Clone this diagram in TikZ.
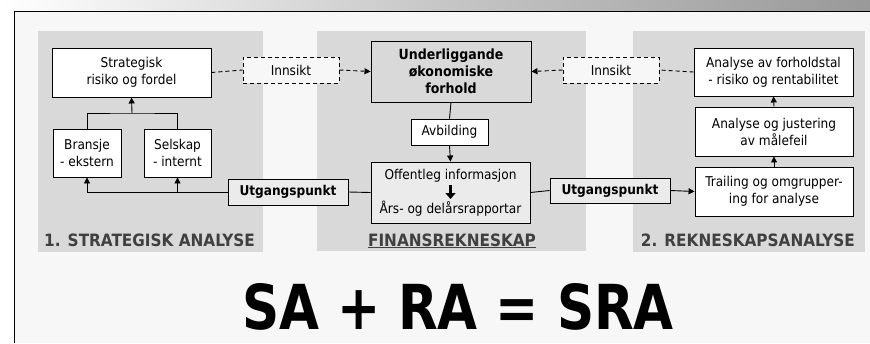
\documentclass[tikz,border=0pt]{standalone}
\usepackage{fontspec}
\setmainfont{DejaVu Sans Condensed}
\usetikzlibrary{arrows.meta}
\definecolor{bgc}{HTML}{F7F7F7}
\definecolor{panelc}{HTML}{D9D9D9}
\definecolor{boxc}{HTML}{EBEBEB}
\definecolor{labc}{HTML}{404040}
\tikzset{
  base/.style={draw=black, line width=0.9pt, align=center, inner sep=0pt,
    font=\fontsize{13.5}{17}\selectfont},
  wbox/.style={base, fill=white},
  gbox/.style={base, fill=boxc},
  dbox/.style={base, fill=bgc, dashed, dash pattern=on 4pt off 3pt},
  conn/.style={line width=0.9pt},
  arr/.style={conn, -{Triangle[length=6pt,width=6pt]}},
  dconn/.style={conn, dash pattern=on 4pt off 3pt},
  plab/.style={font=\fontsize{17}{20}\bfseries\selectfont, text=labc, inner sep=0pt}
}
\begin{document}
\begin{tikzpicture}[x=1pt,y=-1pt]
\useasboundingbox (0,0) rectangle (870,343);
\fill[white] (0,0) rectangle (870,343);
\shade[left color=white, right color=black!40, middle color=black!22] (0,0) rectangle (870,11.5);
\fill[bgc] (14.5,11.5) rectangle (870,343);
\draw[line width=1.6pt] (14.5,343) -- (14.5,11.5) -- (870,11.5);
% panels
\fill[panelc] (38,31) rectangle (263,252);
\fill[panelc] (317,31) rectangle (586,251);
\fill[panelc] (633,31) rectangle (865,252);
% nodes
\node[wbox, minimum width=159pt, minimum height=49pt] (strat) at (131.5,72.5) {Strategisk\\risiko og fordel};
\node[wbox, minimum width=68pt, minimum height=48pt] (brans) at (87,153) {Bransje\\- ekstern};
\node[wbox, minimum width=67pt, minimum height=48pt] (selsk) at (177.5,153) {Selskap\\- internt};
\node[gbox, minimum width=120pt, minimum height=26pt, font=\fontsize{13.5}{17}\bfseries\selectfont] (utgL) at (288,192) {Utgangspunkt};
\node[dbox, minimum width=96pt, minimum height=26pt] (innL) at (291,70) {Innsikt};
\node[base, fill=panelc, minimum width=160pt, minimum height=61pt, font=\fontsize{14}{17}\bfseries\selectfont] (under) at (451,71.5) {Underliggande\\økonomiske\\forhold};
\node[wbox, minimum width=77pt, minimum height=26pt] (avb) at (449.5,132) {Avbilding};
\node[gbox, minimum width=159pt, minimum height=61pt] (off) at (450.5,192.5) {};
\node[inner sep=0pt, font=\fontsize{13.5}{17}\selectfont] (offA) at (450.5,176) {Offentleg informasjon};
\node[inner sep=0pt, font=\fontsize{13.5}{17}\selectfont] (offB) at (450.5,209) {Års- og delårsrapportar};
\draw[line width=2.6pt, -{Triangle[length=6pt,width=10pt]}] (450.5,185) -- (450.5,199);
\node[gbox, minimum width=120pt, minimum height=25pt, font=\fontsize{13.5}{17}\bfseries\selectfont] (utgR) at (610,190.5) {Utgangspunkt};
\node[dbox, minimum width=96pt, minimum height=26pt] (innR) at (611,70) {Innsikt};
\node[wbox, minimum width=159pt, minimum height=48pt] (fh) at (773.5,72) {Analyse av forholdstal\\- risiko og rentabilitet};
\node[wbox, minimum width=158pt, minimum height=49pt] (just) at (774,131.5) {Analyse og justering\\av målefeil};
\node[wbox, minimum width=158pt, minimum height=49pt] (trail) at (774,191.5) {Trailing og omgrupper-\\ing for analyse};
% connectors
\coordinate (j) at (132,113);
\draw[conn] (brans.north) |- (j) -| (selsk.north);
\draw[arr] (j) -- (strat.south);
\draw[arr] (utgL.west) -| (brans.south);
\draw[arr] (utgL.west -| selsk.south) -- (selsk.south);
\draw[conn] (off.west) -- (utgL.east);
\draw[conn] (off.east) -- (utgR.west);
\draw[arr] (utgR.east) -- (trail.west);
\draw[arr] (trail.north) -- (just.south);
\draw[arr] (just.north) -- (fh.south);
\draw[conn] (under.south) -- (avb.north);
\draw[arr] (avb.south) -- (off.north);
\draw[dconn] (strat.east) -- (innL.west);
\draw[dconn, -{Triangle[length=6pt,width=6pt]}] (innL.east) -- (under.west);
\draw[dconn] (fh.west) -- (innR.east);
\draw[dconn, -{Triangle[length=6pt,width=6pt]}] (innR.west) -- (under.east);
% labels
\node[plab, anchor=base west] (labL) at (44,246) {1. STRATEGISK ANALYSE};
\node[plab, anchor=base] (labM) at (452,246) {\underline{FINANSREKNESKAP}};
\node[plab, anchor=base east] (labR) at (855,246) {2. REKNESKAPSANALYSE};
\node[font=\fontsize{62}{62}\bfseries\selectfont, inner sep=0pt, anchor=base] (eq) at (458,329) {\scalebox{0.925}[1]{SA + RA = SRA}};
\end{tikzpicture}
\end{document}
